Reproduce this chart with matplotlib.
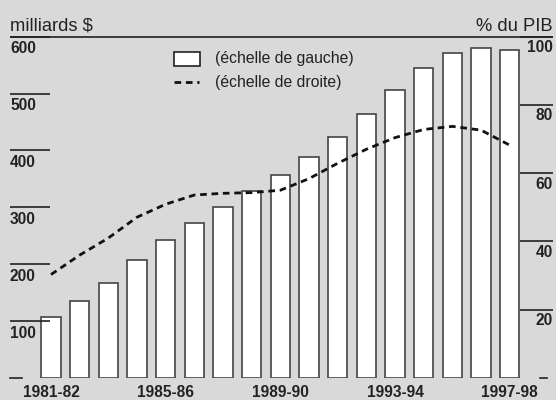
import matplotlib
matplotlib.use("Agg")
import matplotlib.pyplot as plt
import matplotlib.transforms as mtransforms
from matplotlib.patches import Rectangle
from matplotlib.lines import Line2D

# ---- data ----
years = ["1981-82", "1982-83", "1983-84", "1984-85", "1985-86", "1986-87",
         "1987-88", "1988-89", "1989-90", "1990-91", "1991-92", "1992-93",
         "1993-94", "1994-95", "1995-96", "1996-97", "1997-98"]
debt_billions = [107, 135, 167, 207, 242, 272, 300, 329, 357, 389, 424, 464,
                 506, 544, 572, 580, 577]
debt_pct_gdp = [30.3, 36.0, 41.0, 47.1, 50.9, 53.6, 54.1, 54.3, 55.0, 58.4,
                62.9, 67.0, 70.4, 72.8, 73.7, 72.6, 68.2]
left_ticks = [100, 200, 300, 400, 500, 600]
right_ticks = [20, 40, 60, 80, 100]
shown_years = ["1981-82", "1985-86", "1989-90", "1993-94", "1997-98"]
left_unit = "milliards $"
right_unit = "% du PIB"
legend_left = "(échelle de gauche)"
legend_right = "(échelle de droite)"

# ---- style ----
BG = "#d9d9d9"
INK = "#222222"
plt.rcParams['font.family'] = ['Liberation Sans', 'DejaVu Sans']

W, H = 556, 400
fig = plt.figure(figsize=(W / 100, H / 100), dpi=100, facecolor=BG)

def fx(px):
    return px / W

def fy(py):
    return 1 - py / H

y0_px, y1_px = 378.0, 36.6
ax = fig.add_axes([0, fy(y0_px), 1, fy(y1_px) - fy(y0_px)])
ax.set_facecolor(BG)

x = list(range(len(years)))
step = 28.67
x_left = -51.0 / step
x_right = (W - 51.0) / step
ax.set_xlim(x_left, x_right)
ax.set_ylim(0, 600)
for s in ax.spines.values():
    s.set_visible(False)
ax.set_yticks([])

ax.bar(x, debt_billions, width=0.68, color="white", edgecolor="#444444",
       linewidth=1.2, zorder=2)

# x labels
pos = [years.index(y) for y in shown_years]
ax.set_xticks(pos)
ax.set_xticklabels(shown_years, fontsize=11.2, fontweight="bold", color=INK)
ax.tick_params(axis="x", length=0, pad=5)

# left tick marks + labels
trans = mtransforms.blended_transform_factory(ax.transAxes, ax.transData)
for v in left_ticks:
    ax.plot([fx(10), fx(50)], [v, v], transform=trans, color=INK, lw=1.2,
            clip_on=False, zorder=3, solid_capstyle="butt")
    ax.text(fx(10), v - 12 / 0.57, str(v), transform=trans, ha="left",
            va="center", fontsize=11.2, fontweight="bold", color=INK)
ax.plot([fx(10), fx(22)], [0, 0], transform=trans, color=INK, lw=1.2,
        clip_on=False, zorder=1)
# top line
ax.plot([fx(10), fx(553)], [600, 600], transform=trans, color=INK, lw=1.2,
        clip_on=False, zorder=3, solid_capstyle="butt")

# right axis
ax2 = ax.twinx()
ax2.set_ylim(0, 100)
for s in ax2.spines.values():
    s.set_visible(False)
ax2.set_yticks([])
ax2.set_xlim(x_left, x_right)
ax2.plot(x, debt_pct_gdp, color="#111111", lw=2.0,
         linestyle=(0, (2.4, 1.7)), zorder=4)
trans2 = mtransforms.blended_transform_factory(ax2.transAxes, ax2.transData)
for v in right_ticks:
    ax2.plot([fx(520), fx(553)], [v, v], transform=trans2, color=INK, lw=1.2,
             clip_on=False, solid_capstyle="butt")
    ax2.text(fx(553), v - 11.0 / 3.417, str(v), transform=trans2, ha="right",
             va="center", fontsize=11.2, fontweight="bold", color=INK)
ax2.plot([fx(540), fx(547)], [0, 0], transform=trans2, color=INK, lw=1.2,
         clip_on=False)

# unit labels
fig.text(fx(10), fy(31), left_unit, ha="left", va="baseline", fontsize=13.2,
         color=INK)
fig.text(fx(553), fy(31), right_unit, ha="right", va="baseline", fontsize=13.2,
         color=INK)

# legend (manual)
fig.add_artist(Rectangle((fx(174), fy(65.7)), fx(26), 14 / H,
                         transform=fig.transFigure, facecolor="white",
                         edgecolor=INK, linewidth=1.2))
fig.add_artist(Line2D([fx(174), fx(199)], [fy(81.7), fy(81.7)],
                      transform=fig.transFigure, color="#111111", lw=2.0,
                      linestyle=(0, (2.4, 1.7))))
fig.text(fx(215), fy(58.5), legend_left, ha="left", va="center",
         fontsize=11.3, color=INK)
fig.text(fx(215), fy(82), legend_right, ha="left", va="center",
         fontsize=11.3, color=INK)

fig.savefig("out.png", dpi=100, facecolor=BG)
